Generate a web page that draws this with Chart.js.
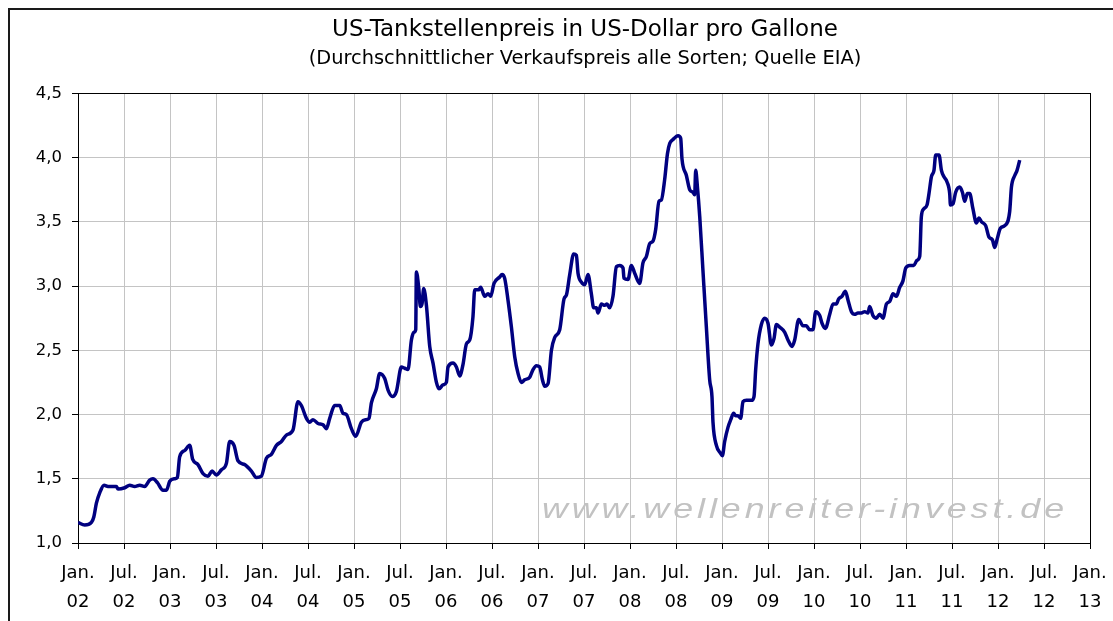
<!DOCTYPE html>
<html lang="de">
<head>
<meta charset="utf-8">
<title>US-Tankstellenpreis in US-Dollar pro Gallone</title>
<script src="https://cdn.jsdelivr.net/npm/chart.js@4.4.1/dist/chart.umd.min.js"></script>
<style>
  html, body { margin: 0; padding: 0; background: #fff; overflow: hidden; width: 1113px; height: 621px; }
  .frame { position: absolute; left: 8px; top: 8px; width: 1200px; height: 700px;
           border-left: 2px solid #1a1a1a; border-top: 2px solid #1a1a1a; }
  #priceChart { position: absolute; left: 10px; top: 10px; }
</style>
</head>
<body>
<div class="frame"></div>
<canvas id="priceChart" width="1150" height="611"></canvas>
<script>
// ============================================
// DATA (decimal years)
// ============================================

const weekDates = [
  2002.000, 2002.073, 2002.146, 2002.171, 2002.200, 2002.236, 2002.283, 2002.326, 2002.417, 2002.435,
  2002.508, 2002.562, 2002.616, 2002.671, 2002.725, 2002.779, 2002.815, 2002.863, 2002.924, 2002.961,
  2002.997, 2003.051, 2003.080, 2003.105, 2003.160, 2003.214, 2003.247, 2003.304, 2003.359, 2003.413,
  2003.457, 2003.504, 2003.559, 2003.613, 2003.649, 2003.696, 2003.739, 2003.812, 2003.830, 2003.885,
  2003.939, 2003.993, 2004.048, 2004.102, 2004.157, 2004.211, 2004.265, 2004.337, 2004.391, 2004.428,
  2004.483, 2004.518, 2004.554, 2004.609, 2004.663, 2004.700, 2004.736, 2004.790, 2004.845, 2004.880,
  2004.917, 2004.972, 2005.018, 2005.080, 2005.135, 2005.163, 2005.189, 2005.243, 2005.279, 2005.334,
  2005.370, 2005.417, 2005.461, 2005.515, 2005.551, 2005.587, 2005.624, 2005.652, 2005.671, 2005.678,
  2005.703, 2005.722, 2005.739, 2005.758, 2005.787, 2005.823, 2005.859, 2005.896, 2005.924, 2005.967,
  2006.004, 2006.022, 2006.076, 2006.113, 2006.149, 2006.185, 2006.222, 2006.258, 2006.293, 2006.312,
  2006.355, 2006.377, 2006.420, 2006.457, 2006.486, 2006.522, 2006.584, 2006.609, 2006.638, 2006.674,
  2006.711, 2006.747, 2006.783, 2006.820, 2006.855, 2006.910, 2006.946, 2006.983, 2007.018, 2007.048,
  2007.073, 2007.109, 2007.146, 2007.182, 2007.236, 2007.283, 2007.309, 2007.345, 2007.388, 2007.417,
  2007.435, 2007.472, 2007.508, 2007.543, 2007.580, 2007.605, 2007.635, 2007.652, 2007.689, 2007.725,
  2007.750, 2007.779, 2007.815, 2007.852, 2007.888, 2007.924, 2007.935, 2007.978, 2008.015, 2008.051,
  2008.105, 2008.141, 2008.178, 2008.214, 2008.250, 2008.279, 2008.315, 2008.341, 2008.377, 2008.407,
  2008.432, 2008.467, 2008.522, 2008.551, 2008.565, 2008.613, 2008.649, 2008.685, 2008.703, 2008.714,
  2008.733, 2008.758, 2008.793, 2008.830, 2008.866, 2008.891, 2008.902, 2008.939, 2008.983, 2009.004,
  2009.029, 2009.065, 2009.095, 2009.127, 2009.149, 2009.174, 2009.203, 2009.228, 2009.265, 2009.320,
  2009.348, 2009.366, 2009.391, 2009.428, 2009.464, 2009.500, 2009.537, 2009.565, 2009.591, 2009.627,
  2009.682, 2009.717, 2009.761, 2009.790, 2009.834, 2009.880, 2009.917, 2009.953, 2009.989, 2010.018,
  2010.062, 2010.087, 2010.124, 2010.171, 2010.207, 2010.243, 2010.268, 2010.304, 2010.341, 2010.370,
  2010.407, 2010.442, 2010.478, 2010.515, 2010.551, 2010.587, 2010.605, 2010.641, 2010.678, 2010.714,
  2010.750, 2010.787, 2010.823, 2010.859, 2010.896, 2010.932, 2010.967, 2010.997, 2011.040, 2011.084,
  2011.120, 2011.149, 2011.167, 2011.192, 2011.228, 2011.250, 2011.276, 2011.304, 2011.323, 2011.359,
  2011.385, 2011.413, 2011.446, 2011.475, 2011.483, 2011.511, 2011.540, 2011.584, 2011.613, 2011.638,
  2011.667, 2011.692, 2011.728, 2011.765, 2011.793, 2011.820, 2011.866, 2011.902, 2011.939, 2011.964,
  2011.989, 2012.026, 2012.073, 2012.127, 2012.146, 2012.182, 2012.207, 2012.236
];

const gasPrices = [
  1.16, 1.14, 1.16, 1.20, 1.31, 1.39, 1.45, 1.44, 1.44, 1.42,
  1.43, 1.45, 1.44, 1.45, 1.44, 1.49, 1.50, 1.47, 1.41, 1.41,
  1.48, 1.50, 1.51, 1.67, 1.72, 1.76, 1.65, 1.61, 1.54, 1.52,
  1.56, 1.53, 1.57, 1.62, 1.79, 1.76, 1.64, 1.61, 1.60, 1.56,
  1.51, 1.52, 1.66, 1.69, 1.76, 1.79, 1.84, 1.88, 2.10, 2.07,
  1.97, 1.94, 1.96, 1.93, 1.92, 1.89, 1.97, 2.07, 2.07, 2.01,
  2.00, 1.89, 1.83, 1.94, 1.96, 1.97, 2.09, 2.20, 2.32, 2.28,
  2.19, 2.14, 2.18, 2.37, 2.36, 2.35, 2.58, 2.64, 2.66, 3.11,
  2.99, 2.84, 2.86, 2.98, 2.85, 2.53, 2.40, 2.25, 2.20, 2.23,
  2.25, 2.37, 2.40, 2.37, 2.30, 2.39, 2.55, 2.58, 2.76, 2.97,
  2.97, 2.99, 2.92, 2.94, 2.92, 3.02, 3.07, 3.09, 3.06, 2.89,
  2.68, 2.45, 2.32, 2.25, 2.27, 2.29, 2.35, 2.38, 2.37, 2.27,
  2.22, 2.24, 2.50, 2.60, 2.66, 2.90, 2.93, 3.09, 3.25, 3.24,
  3.10, 3.03, 3.01, 3.09, 2.94, 2.83, 2.83, 2.79, 2.86, 2.85,
  2.86, 2.83, 2.92, 3.15, 3.16, 3.14, 3.06, 3.05, 3.16, 3.10,
  3.02, 3.18, 3.23, 3.33, 3.35, 3.44, 3.66, 3.67, 3.83, 4.03,
  4.11, 4.14, 4.17, 4.15, 3.99, 3.86, 3.75, 3.73, 3.71, 3.90,
  3.77, 3.54, 3.12, 2.68, 2.27, 2.14, 1.94, 1.76, 1.70, 1.68,
  1.79, 1.90, 1.96, 2.01, 1.99, 1.99, 1.97, 2.10, 2.11, 2.11,
  2.14, 2.35, 2.55, 2.70, 2.75, 2.71, 2.54, 2.59, 2.70, 2.68,
  2.64, 2.58, 2.53, 2.58, 2.74, 2.69, 2.69, 2.66, 2.66, 2.80,
  2.77, 2.71, 2.67, 2.78, 2.86, 2.86, 2.90, 2.92, 2.96, 2.89,
  2.80, 2.78, 2.79, 2.79, 2.80, 2.79, 2.84, 2.77, 2.75, 2.78,
  2.75, 2.86, 2.88, 2.94, 2.92, 2.99, 3.04, 3.14, 3.16, 3.16,
  3.20, 3.23, 3.54, 3.60, 3.63, 3.72, 3.85, 3.90, 4.02, 4.02,
  3.90, 3.85, 3.81, 3.72, 3.63, 3.64, 3.73, 3.77, 3.73, 3.66,
  3.72, 3.72, 3.60, 3.49, 3.53, 3.50, 3.47, 3.38, 3.36, 3.30,
  3.36, 3.45, 3.47, 3.58, 3.77, 3.86, 3.90, 3.98
];

const halfYearLabels = ['Jan.', 'Jul.'];

// ============================================
// CONFIGURATION
// ============================================

const LINE_COLOR = '#000080';
const GRID_COLOR = '#c4c4c4';
const WATERMARK = 'www.wellenreiter-invest.de';

Chart.defaults.font.family = '"DejaVu Sans", sans-serif';
Chart.defaults.color = '#000';

// ============================================
// PLUGIN: plot frame + watermark
// ============================================

const plotFramePlugin = {
  id: 'plotFrame',
  beforeDatasetsDraw(chart) {
    const { ctx, chartArea: a } = chart;

    // watermark, stretched like the original
    ctx.save();
    ctx.font = 'italic 27px "Liberation Sans"';
    ctx.letterSpacing = '3px';
    const w = ctx.measureText(WATERMARK).width;
    ctx.translate(a.left + 464, a.bottom - 25);
    ctx.scale(526 / w, 1);
    ctx.fillStyle = '#c2c2c2';
    ctx.fillText(WATERMARK, 0, 0);
    ctx.restore();

    // black border round the plot area
    ctx.save();
    ctx.strokeStyle = '#000';
    ctx.lineWidth = 1;
    const l = Math.round(a.left) + 0.5, t = Math.round(a.top) + 0.5;
    ctx.strokeRect(l, t, Math.round(a.right) - Math.round(a.left), Math.round(a.bottom) - Math.round(a.top));
    ctx.restore();
  }
};

// ============================================
// CHART.JS SETUP
// ============================================

let priceChart = null;

function initializeChart() {
  const ctx = document.getElementById('priceChart').getContext('2d');

  priceChart = new Chart(ctx, {
    type: 'line',
    data: {
      datasets: [{
        label: 'US-Tankstellenpreis',
        data: weekDates.map((d, i) => ({ x: d, y: gasPrices[i] })),
        borderColor: LINE_COLOR,
        borderWidth: 3.5,
        pointRadius: 0,
        fill: false,
        cubicInterpolationMode: 'monotone'
      }]
    },
    options: {
      responsive: false,
      devicePixelRatio: 1,
      animation: false,
      layout: { padding: 0 },
      plugins: {
        legend: { display: false },
        tooltip: { enabled: false },
        title: {
          display: true,
          text: 'US-Tankstellenpreis in US-Dollar pro Gallone',
          font: { size: 23, weight: 'normal' },
          color: '#000',
          padding: { top: 6, bottom: 0 }
        },
        subtitle: {
          display: true,
          text: '(Durchschnittlicher Verkaufspreis alle Sorten; Quelle EIA)',
          font: { size: 19.4, weight: 'normal' },
          color: '#000',
          padding: { top: 4, bottom: 22.4 }
        }
      },
      scales: {
        x: {
          type: 'linear',
          min: 2002,
          max: 2013,
          afterFit: (scale) => { scale.height = 78; },
          border: { color: '#000', width: 1 },
          grid: { color: GRID_COLOR, tickColor: '#000', tickLength: 6 },
          ticks: {
            stepSize: 0.5,
            autoSkip: false,
            maxRotation: 0,
            minRotation: 0,
            padding: 10,
            color: '#000',
            font: { size: 18, lineHeight: '29px' },
            callback: (value) => {
              const year = Math.floor(value);
              const half = value - year >= 0.5 ? 1 : 0;
              return [halfYearLabels[half], String(year).slice(2)];
            }
          }
        },
        y: {
          min: 1,
          max: 4.5,
          afterFit: (scale) => { scale.width = 68; },
          border: { color: '#000', width: 1 },
          grid: { color: GRID_COLOR, tickColor: '#000', tickLength: 6 },
          ticks: {
            stepSize: 0.5,
            padding: 10,
            color: '#000',
            font: { size: 16.5 },
            callback: (value) => value.toFixed(1).replace('.', ',')
          }
        },
        // right-hand frame of the plot area (keeps the titles centred on the canvas)
        yRight: {
          position: 'right',
          min: 1,
          max: 4.5,
          afterFit: (scale) => { scale.width = 70; },
          border: { color: '#000', width: 1 },
          grid: { drawOnChartArea: false, drawTicks: false },
          ticks: { display: false }
        }
      }
    },
    plugins: [plotFramePlugin]
  });
}

// ============================================
// INITIALIZATION
// ============================================

document.addEventListener('DOMContentLoaded', () => {
  initializeChart();
});
</script>
</body>
</html>
